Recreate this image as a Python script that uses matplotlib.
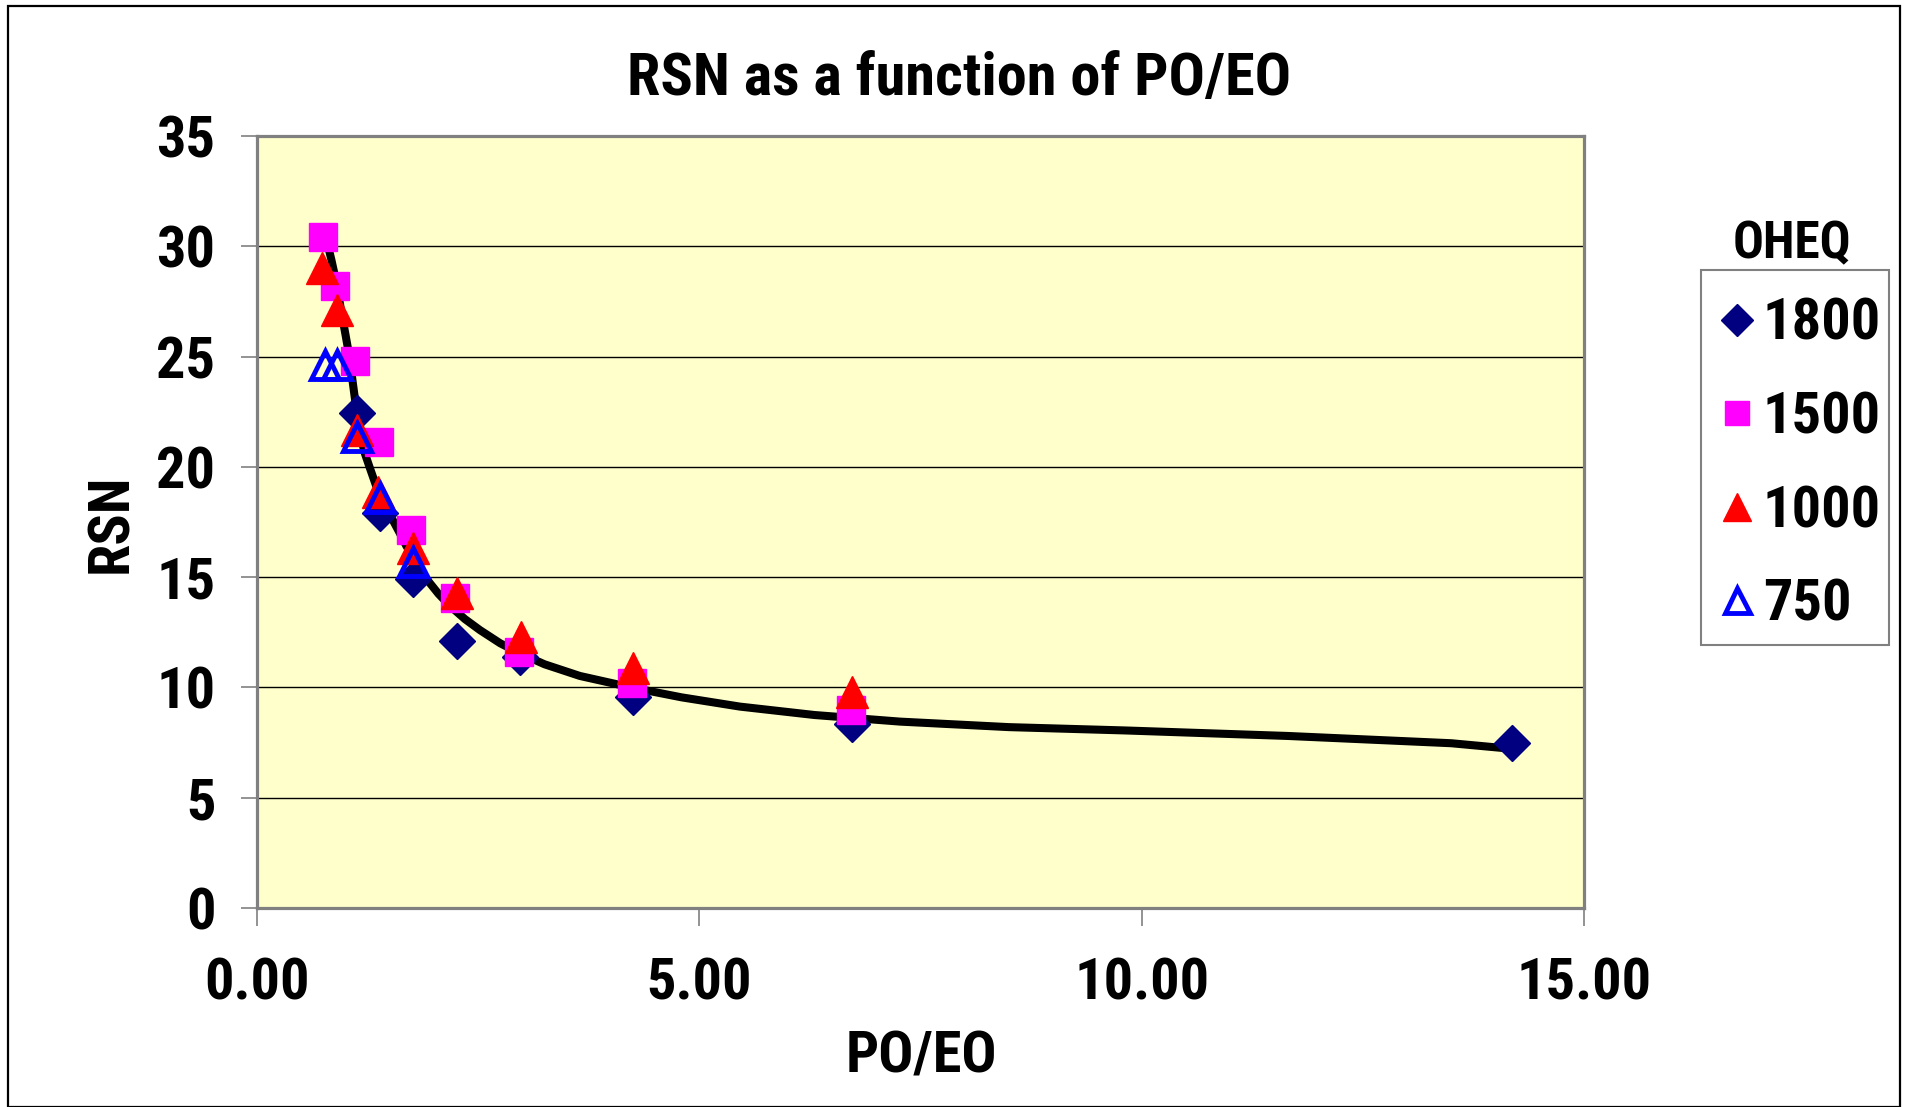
import matplotlib
matplotlib.use("Agg")
import matplotlib.pyplot as plt
from matplotlib.patches import Rectangle

plt.rcParams['font.family'] = ['Roboto Condensed', 'Barlow Semi Condensed', 'Liberation Sans', 'DejaVu Sans']
plt.rcParams['font.weight'] = 'bold'

# data
x1800 = [1.13, 1.39, 1.76, 2.26, 2.97, 4.25, 6.73, 14.19]
y1800 = [22.45, 17.9, 14.9, 12.1, 11.4, 9.55, 8.36, 7.46]

x1500 = [0.75, 0.88, 1.11, 1.38, 1.74, 2.24, 2.96, 4.24, 6.71]
y1500 = [30.43, 28.2, 24.8, 21.14, 17.13, 14.04, 11.62, 10.21, 8.98]

x1000 = [0.74, 0.90, 1.13, 1.37, 1.76, 2.26, 2.98, 4.25, 6.73]
y1000 = [29.0, 27.1, 21.67, 18.87, 16.3, 14.27, 12.3, 10.87, 9.8]

x750 = [0.77, 0.90, 1.13, 1.39, 1.76]
y750 = [24.6, 24.6, 21.37, 18.59, 15.7]

# trend curve
xfit = [0.78, 0.84, 0.90, 0.95, 1.00, 1.04, 1.07, 1.10, 1.13, 1.17, 1.22, 1.28,
        1.35, 1.42, 1.50, 1.60, 1.69, 1.80, 1.92, 2.05, 2.18, 2.35, 2.52, 2.75,
        2.97, 3.25, 3.65, 4.23, 4.80, 5.46, 6.30, 7.27, 8.50, 9.81, 11.65, 13.50, 14.12]
yfit = [30.4, 29.4, 28.3, 27.1, 26.0, 25.1, 24.2, 23.3, 22.4, 21.4, 20.6, 19.9,
        19.1, 18.5, 17.85, 17.1, 16.4, 15.7, 14.9, 14.25, 13.7, 13.1, 12.6, 12.0,
        11.55, 11.05, 10.52, 10.0, 9.55, 9.13, 8.75, 8.45, 8.2, 8.05, 7.8, 7.47, 7.24]

xticks = [0, 5, 10, 15]
xticklabels = ['0.00', '5.00', '10.00', '15.00']
yticks = [0, 5, 10, 15, 20, 25, 30, 35]

W, H = 1906, 1107
fig = plt.figure(figsize=(W / 100, H / 100), dpi=100)
fig.patch.set_facecolor('white')

# outer chart border
fig.add_artist(Rectangle((8 / W, 0), (1900 - 8) / W, 1 - 6 / H, transform=fig.transFigure,
                         fill=False, edgecolor='black', linewidth=1.6))

ax = fig.add_axes([257 / W, 1 - 908 / H, (1584 - 257) / W, (908 - 136) / H])
ax.set_facecolor('#FFFFCC')

ax.plot(xfit, yfit, color='black', lw=5.8, zorder=2, solid_capstyle='butt',
        solid_joinstyle='round')
ax.plot(x1800, y1800, ls='none', marker='D', ms=18, color='#000080', label='1800', zorder=3)
ax.plot(x1500, y1500, ls='none', marker='s', ms=19.5, color='#FF00FF', label='1500', zorder=3)
ax.plot(x1000, y1000, ls='none', marker='^', ms=23, color='#FF0000', label='1000', zorder=4)
ax.plot(x750, y750, ls='none', marker='^', ms=20, mfc='none', mec='#0000FF', mew=3.5,
        label='750', zorder=5)

ax.set_xlim(0, 15)
ax.set_ylim(0, 35)
ax.set_xticks(xticks)
ax.set_xticklabels(xticklabels)
ax.set_yticks(yticks)
ax.grid(axis='y', color='black', lw=1)
ax.set_axisbelow(True)
for s in ax.spines.values():
    s.set_color('#808080')
    s.set_linewidth(2.3)
ax.tick_params(axis='x', length=13, width=1.2, color='#808080', pad=22, labelsize=42)
ax.tick_params(axis='y', length=11.5, width=1.2, color='#808080', pad=18.5, labelsize=42)

fig.text(959 / W, 1 - 95 / H, 'RSN as a function of PO/EO', ha='center', va='baseline',
         fontsize=43.5, fontweight='bold')
fig.text(921 / W, 1 - 1072 / H, 'PO/EO', ha='center', va='baseline',
         fontsize=42, fontweight='bold')
fig.text(127 / W, 1 - 523 / H, 'RSN', ha='center', va='baseline', rotation=90,
         rotation_mode='anchor', fontsize=42, fontweight='bold')
fig.text(1792 / W, 1 - 258 / H, 'OHEQ', ha='center', va='baseline',
         fontsize=37, fontweight='bold')

# legend box drawn separately so its size matches the original
fig.add_artist(Rectangle((1701 / W, 1 - 645 / H), (1889 - 1701) / W, (645 - 270) / H,
                         transform=fig.transFigure, fill=False, edgecolor='#808080',
                         linewidth=1.5))
leg = fig.legend(loc='upper left', bbox_to_anchor=(1716 / W, 1 - 297 / H), borderaxespad=0,
                 fontsize=42, frameon=False, handlelength=0.72, handletextpad=0.08,
                 borderpad=0, labelspacing=0.66, numpoints=1, markerscale=0.9)

fig.savefig('out.png', dpi=100, facecolor='white')
